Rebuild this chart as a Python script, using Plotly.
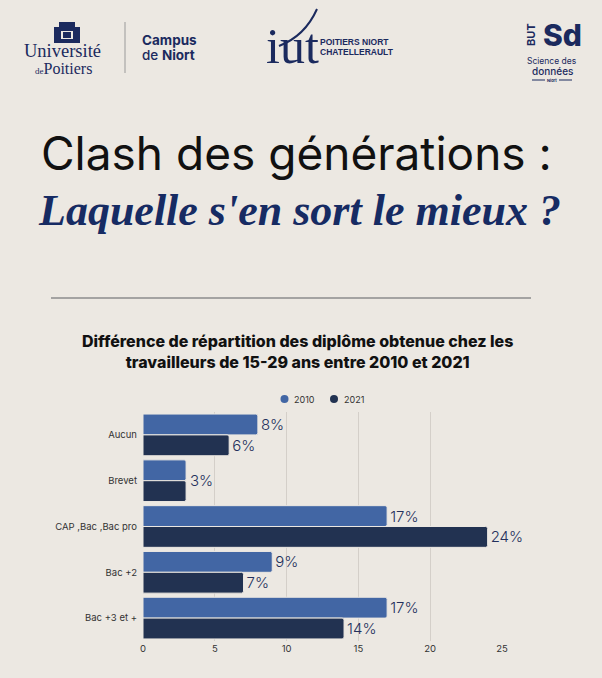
import plotly.graph_objects as go

# ---------------- data ----------------
categories = ["Aucun", "Brevet", "CAP ,Bac ,Bac pro", "Bac +2", "Bac +3 et +"]
values_2010 = [8, 3, 17, 9, 17]
values_2021 = [6, 3, 24, 7, 14]
series_names = ["2010", "2021"]
x_ticks = [0, 5, 10, 15, 20, 25]

# ---------------- style ----------------
W, H = 602, 678
BG = "#ECE8E2"
C2010 = "#4266A4"
C2021 = "#223251"
NAVY = "#1B2A5E"
LABEL_COLOR = "#24305C"


def X(px):
    return px / W


def Y(py):
    return 1 - py / H


# labels: when both years are equal, show a single label centred on the category
text_2010, text_2021, merged = [], [], []
for cat, a, b in zip(categories, values_2010, values_2021):
    if a == b:
        text_2010.append("")
        text_2021.append("")
        merged.append((cat, a))
    else:
        text_2010.append(f"{a}%")
        text_2021.append(f"{b}%")

label_font = dict(family="Inter, Roboto, sans-serif", size=15, color=LABEL_COLOR, weight=300)

fig = go.Figure()
fig.add_trace(go.Bar(
    y=categories, x=values_2010, name=series_names[0], orientation="h",
    marker=dict(color=C2010, line=dict(color=BG, width=1)),
    text=text_2010, textposition="outside", textfont=label_font,
    cliponaxis=False, showlegend=False,
))
fig.add_trace(go.Bar(
    y=categories, x=values_2021, name=series_names[1], orientation="h",
    marker=dict(color=C2021, line=dict(color=BG, width=1)),
    text=text_2021, textposition="outside", textfont=label_font,
    cliponaxis=False, showlegend=False,
))

annotations = []
for cat, v in merged:
    annotations.append(dict(
        x=v, y=cat, xref="x", yref="y", text=f"{v}%", showarrow=False,
        xanchor="left", yanchor="middle", xshift=2, font=label_font,
    ))

# ---------------- header / titles ----------------
def txt(text, x, y, size, color=NAVY, family="Inter, sans-serif", weight=400,
        style="normal", xanchor="center", yanchor="middle", angle=0):
    annotations.append(dict(
        text=text, x=X(x), y=Y(y), xref="paper", yref="paper", showarrow=False,
        xanchor=xanchor, yanchor=yanchor, textangle=angle,
        font=dict(family=family, size=size, color=color, weight=weight, style=style),
    ))

# Université de Poitiers
txt("Université", 62, 51.5, 18.5, family="Liberation Serif, serif")
txt("<span style='font-size:9px'>de</span>Poitiers", 63, 68.5, 16, family="Liberation Serif, serif")
# Campus de Niort
txt("Campus", 140, 40, 13.5, weight=700, xanchor="left")
txt("de <b>Niort</b>", 140, 55.5, 13.5, weight=500, xanchor="left")
# IUT
txt("iut", 292, 46, 50, family="Liberation Serif, serif")
txt("POITIERS NIORT", 318, 42, 8.5, weight=700, family="Liberation Sans Narrow, Liberation Sans, sans-serif", xanchor="left")
txt("CHATELLERAULT", 318, 52, 8.5, weight=700, family="Liberation Sans Narrow, Liberation Sans, sans-serif", xanchor="left")
# BUT SD
txt("BUT", 531, 35, 11, weight=700, angle=-90)
txt("Sd", 562, 35, 30, weight=800)
txt("Science des", 552, 61, 8.5)
txt("données", 552, 71, 10, weight=500)
txt("Niort", 552, 80, 4, weight=700)

# main titles
txt("Clash des générations :", 296.5, 153, 46, color="#111111", family="Inter, sans-serif", weight=400)
txt("Laquelle s'en sort le mieux ?", 299, 210, 44, color="#162B63",
    family="Liberation Serif, serif", weight=700, style="italic")

# chart title
txt("Différence de répartition des diplôme obtenue chez les<br>travailleurs de 15-29 ans entre 2010 et 2021",
    297, 351, 16, color="#111111", weight=800)

# legend (manual)
txt(series_names[0], 292, 399, 9, color="#333333", xanchor="left")
txt(series_names[1], 342, 399, 9, color="#333333", xanchor="left")

shapes = []


def rect(x0, y0, x1, y1, color):
    shapes.append(dict(type="rect", xref="paper", yref="paper", x0=X(x0), x1=X(x1),
                       y0=Y(y1), y1=Y(y0), fillcolor=color, line=dict(width=0), layer="above"))


def line(x0, y0, x1, y1, color, width):
    shapes.append(dict(type="line", xref="paper", yref="paper", x0=X(x0), x1=X(x1),
                       y0=Y(y0), y1=Y(y1), line=dict(color=color, width=width)))


def circle(cx, cy, r, color):
    shapes.append(dict(type="circle", xref="paper", yref="paper", x0=X(cx - r), x1=X(cx + r),
                       y0=Y(cy + r), y1=Y(cy - r), fillcolor=color, line=dict(width=0)))

# legend markers
circle(284.5, 399, 4, C2010)
circle(334, 399, 4, C2021)

# crest (simplified)
rect(54, 27, 80, 43, NAVY)
rect(59, 22, 75, 27, NAVY)
rect(61, 31, 73, 39, BG)
rect(63, 32, 71, 38, NAVY)
# separator in header
line(125, 22, 125, 73, "#9A9A9A", 1)
# iut swoosh
shapes.append(dict(type="path", xref="paper", yref="paper",
                   path=f"M {X(279)},{Y(46)} Q {X(305)},{Y(36)} {X(317)},{Y(9)}",
                   line=dict(color=NAVY, width=2)))
# BUT SD dashes
line(532, 80, 545, 80, NAVY, 1)
line(559, 80, 572, 80, NAVY, 1)
# title separator
line(51, 298, 531, 298, "#8C8C8C", 1.5)

fig.update_layout(
    width=W, height=H, autosize=False,
    margin=dict(l=0, r=0, t=0, b=0, pad=0),
    paper_bgcolor=BG, plot_bgcolor=BG,
    barmode="group", bargap=0.09, bargroupgap=0, barcornerradius=2,
    showlegend=False,
    annotations=annotations, shapes=shapes,
    font=dict(family="Inter, sans-serif"),
    xaxis=dict(
        domain=[X(143), X(502)], range=[0, 25], automargin=False,
        tickvals=x_ticks, ticktext=[str(t) for t in x_ticks],
        showgrid=True, gridcolor="#D4CFC9", gridwidth=1,
        zeroline=False, showline=False, ticks="",
        tickfont=dict(size=9.5, color="#333333"),
    ),
    yaxis=dict(
        domain=[Y(641), Y(412)], automargin=False,
        categoryorder="array", categoryarray=categories, autorange="reversed",
        showgrid=False, zeroline=False, showline=False, ticks="",
        ticklabelstandoff=5,
        tickfont=dict(size=9.5, color="#333333"),
    ),
)

fig.write_html("out.html")
